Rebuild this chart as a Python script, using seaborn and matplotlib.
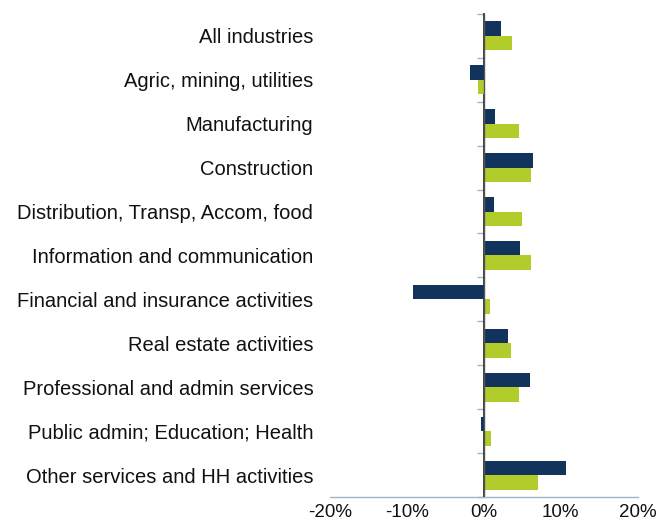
import matplotlib
matplotlib.use("Agg")
import matplotlib.pyplot as plt
import seaborn as sns
import pandas as pd
import numpy as np
from matplotlib.ticker import FuncFormatter, FixedLocator

categories = [
    "All industries",
    "Agric, mining, utilities",
    "Manufacturing",
    "Construction",
    "Distribution, Transp, Accom, food",
    "Information and communication",
    "Financial and insurance activities",
    "Real estate activities",
    "Professional and admin services",
    "Public admin; Education; Health",
    "Other services and HH activities",
]
series_names = ["Series A", "Series B"]
series_a = [2.3, -1.85, 1.5, 6.35, 1.3, 4.7, -9.2, 3.1, 6.0, -0.4, 10.7]
series_b = [3.7, -0.7, 4.6, 6.2, 5.0, 6.1, 0.8, 3.6, 4.6, 1.0, 7.1]
x_ticks = [-20, -10, 0, 10, 20]

df = pd.DataFrame({
    "category": categories * 2,
    "series": [series_names[0]] * len(categories) + [series_names[1]] * len(categories),
    "value": series_a + series_b,
})

sns.set_theme(style="white")
plt.rcParams["font.family"] = ["Liberation Sans", "DejaVu Sans"]

fig = plt.figure(figsize=(6.6, 5.24), dpi=100)
ax = fig.add_axes([0.5, 0.0515, 0.466, 0.922])

sns.barplot(data=df, y="category", x="value", hue="series", order=categories,
            hue_order=series_names, palette=["#12335C", "#B2CC2C"],
            width=0.66, orient="h", ax=ax, legend=False, saturation=1,
            linewidth=0, edgecolor="none")

ax.set_xlim(-20, 20)
ax.set_ylim(len(categories) - 0.5, -0.5)
ax.set_xticks(x_ticks)
ax.xaxis.set_major_formatter(FuncFormatter(lambda v, p: f"{v:.0f}%"))
ax.set_xlabel("")
ax.set_ylabel("")

for s in ["top", "right", "left"]:
    ax.spines[s].set_visible(False)
ax.spines["bottom"].set_color("#9DB6CC")
ax.spines["bottom"].set_linewidth(1.0)
ax.tick_params(axis="x", which="major", direction="inout", length=6, width=1,
               color="#9DB6CC", labelsize=13.5, pad=2, labelcolor="#111111")
ax.tick_params(axis="y", which="major", length=0, labelsize=14.5, pad=12,
               labelcolor="#111111")

# zero / category axis line
ax.axvline(0, color="#555555", lw=1.0, zorder=3)
sec = ax.secondary_yaxis(0.5)
sec.spines["left"].set_visible(False)
sec.yaxis.set_major_locator(FixedLocator(np.arange(len(categories) + 1) - 0.5))
sec.tick_params(axis="y", direction="in", length=5, width=1, color="#9DB6CC",
                labelleft=False, labelright=False)
sec.set_yticklabels([])

fig.savefig("out.png", dpi=100)
